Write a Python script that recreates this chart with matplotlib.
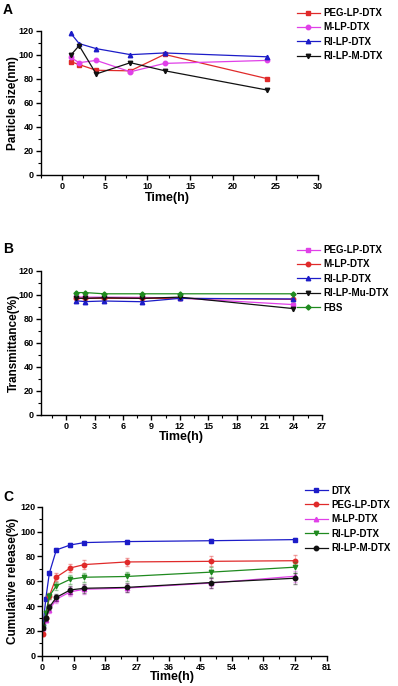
import matplotlib
matplotlib.use("Agg")
import matplotlib.pyplot as plt
from matplotlib.ticker import MultipleLocator

plt.rcParams['font.family'] = ['Liberation Sans', 'DejaVu Sans']
plt.rcParams['font.weight'] = 'bold'

# ---------------- Panel A data ----------------
tA = [1, 2, 4, 8, 12, 24]
A_labels = ['PEG-LP-DTX', 'M-LP-DTX', 'RI-LP-DTX', 'RI-LP-M-DTX']
A_peg = [94.5, 92.0, 87.3, 86.8, 100.5, 80.3]
A_m = [98.0, 93.6, 95.5, 86.0, 93.0, 95.5]
A_ri = [118.3, 109.5, 105.3, 100.3, 101.7, 98.5]
A_rim = [99.7, 107.8, 84.2, 93.6, 86.9, 70.8]

# ---------------- Panel B data ----------------
tB = [1, 2, 4, 8, 12, 24]
B_labels = ['PEG-LP-DTX', 'M-LP-DTX', 'RI-LP-DTX', 'RI-LP-Mu-DTX', 'FBS']
B_peg = [98.2, 98.0, 98.0, 97.8, 97.2, 91.8]
B_m = [97.0, 97.0, 97.0, 97.0, 97.0, 96.2]
B_ri = [95.0, 94.3, 94.8, 94.2, 97.0, 96.5]
B_rimu = [97.2, 97.0, 97.5, 97.0, 98.0, 88.5]
B_fbs = [101.8, 101.8, 100.8, 100.8, 100.8, 100.8]

# ---------------- Panel C data ----------------
tC = [0.25, 1, 2, 4, 8, 12, 24, 48, 72]
C_labels = ['DTX', 'PEG-LP-DTX', 'M-LP-DTX', 'RI-LP-DTX', 'RI-LP-M-DTX']
C_dtx = [25.0, 46.0, 66.4, 85.2, 89.2, 91.1, 91.9, 92.6, 93.5]
C_dtx_err = [1.5, 1.5, 1.5, 1.5, 1.5, 1.5, 1.5, 1.5, 1.5]
C_peg = [17.5, 30.0, 48.0, 63.3, 70.7, 73.4, 75.5, 76.0, 76.5]
C_peg_err = [1.5, 2.0, 2.5, 3.0, 3.5, 3.5, 3.5, 4.0, 4.5]
C_m = [22.0, 29.0, 37.0, 45.5, 51.5, 53.5, 54.5, 58.5, 64.0]
C_m_err = [1.5, 2.0, 2.5, 3.0, 3.5, 3.5, 3.5, 4.0, 4.5]
C_ri = [23.0, 34.0, 48.0, 56.3, 61.6, 63.2, 63.8, 67.3, 71.3]
C_ri_err = [1.5, 2.0, 2.5, 3.0, 3.5, 3.5, 3.5, 4.0, 4.5]
C_rim = [22.0, 30.0, 39.0, 47.0, 53.0, 54.3, 55.0, 58.9, 62.4]
C_rim_err = [1.5, 2.0, 2.5, 3.0, 3.5, 3.5, 3.5, 4.0, 4.5]

RED = '#e02a2a'
MAG = '#e040e8'
BLUE = '#1c1cc8'
BLACK = '#111111'
GREEN = '#1f8a1f'

W, H = 398, 686
fig = plt.figure(figsize=(W / 100, H / 100), dpi=100)


def px_axes(left, right, top, bottom):
    return fig.add_axes([left / W, 1 - bottom / H, (right - left) / W, (bottom - top) / H])


def style(ax, xmin, xlim, xticks):
    ax.spines['top'].set_visible(False)
    ax.spines['right'].set_visible(False)
    for s in ('left', 'bottom'):
        ax.spines[s].set_linewidth(1.0)
    ax.set_xlim(*xlim)
    ax.set_xticks(xticks)
    ax.xaxis.set_minor_locator(MultipleLocator(xmin))
    ax.set_ylim(0, 120)
    ax.set_yticks(range(0, 121, 20))
    ax.yaxis.set_minor_locator(MultipleLocator(10))
    ax.tick_params(which='major', direction='out', length=3.5, width=1, labelsize=6.5, pad=1.5)
    ax.tick_params(which='minor', direction='out', length=2, width=0.8)
    for lab in ax.get_xticklabels() + ax.get_yticklabels():
        lab.set_fontweight('bold')


def legend(ax, x, y):
    leg = ax.legend(loc='upper left', bbox_to_anchor=(x / W, 1 - y / H), bbox_transform=fig.transFigure,
                    frameon=False, fontsize=7, handlelength=2.35, handletextpad=0.4,
                    labelspacing=0.45, borderpad=0, borderaxespad=0)
    for t in leg.get_texts():
        t.set_fontweight('bold')
    return leg


def labels(ax, xl, yl, xc, yc):
    ax.set_xlabel(xl, fontsize=9, fontweight='bold')
    ax.set_ylabel(yl, fontsize=8.5, fontweight='bold')
    ax.xaxis.label.set_va('center')
    ax.xaxis.set_label_coords(*xc)
    ax.yaxis.set_label_coords(*yc)


lw = 0.9
ms = 3.2

# ---------------- Panel A ----------------
axA = px_axes(40.7, 318.3, 31, 175)
axA.plot(tA, A_peg, '-s', color=RED, lw=lw, ms=ms, label=A_labels[0])
axA.plot(tA, A_m, '-o', color=MAG, lw=lw, ms=ms, label=A_labels[1])
axA.plot(tA, A_ri, '-^', color=BLUE, lw=lw, ms=ms, label=A_labels[2])
axA.plot(tA, A_rim, '-v', color=BLACK, lw=lw, ms=ms, label=A_labels[3])
style(axA, 2.5, (-2.5, 30), range(0, 31, 5))
labels(axA, 'Time(h)', 'Particle size(nm)', (0.455, -0.16), (-0.078, 0.5))
legend(axA, 297, 8)
fig.text(3 / W, 1 - 3 / H, 'A', fontsize=10, fontweight='bold', va='top', ha='left')

# ---------------- Panel B ----------------
axB = px_axes(40.7, 321.7, 270.7, 415)
axB.plot(tB, B_peg, '-s', color=MAG, lw=lw, ms=ms, label=B_labels[0])
axB.plot(tB, B_m, '-o', color=RED, lw=lw, ms=ms, label=B_labels[1])
axB.plot(tB, B_ri, '-^', color=BLUE, lw=lw, ms=ms, label=B_labels[2])
axB.plot(tB, B_rimu, '-v', color=BLACK, lw=lw, ms=ms, label=B_labels[3])
axB.plot(tB, B_fbs, '-D', color=GREEN, lw=lw, ms=2.6, label=B_labels[4])
style(axB, 1.5, (-2.7, 27), range(0, 28, 3))
labels(axB, 'Time(h)', 'Transmittance(%)', (0.5, -0.152), (-0.074, 0.5))
legend(axB, 297, 245)
fig.text(3 / W, 1 - 242 / H, 'B', fontsize=10, fontweight='bold', va='top', ha='left')

# ---------------- Panel C ----------------
axC = px_axes(42.3, 326.7, 506.7, 655.7)
series = [
    (C_dtx, C_dtx_err, BLUE, 's', C_labels[0]),
    (C_peg, C_peg_err, RED, 'o', C_labels[1]),
    (C_m, C_m_err, MAG, '^', C_labels[2]),
    (C_ri, C_ri_err, GREEN, 'v', C_labels[3]),
    (C_rim, C_rim_err, BLACK, 'o', C_labels[4]),
]
for y, e, c, m, lab in series:
    axC.errorbar(tC, y, yerr=e, fmt='none', ecolor=c, elinewidth=0.5, capsize=1.2, alpha=0.45)
    axC.plot(tC, y, '-' + m, color=c, lw=lw, ms=ms, label=lab)
style(axC, 4.5, (0, 81), range(0, 82, 9))
labels(axC, 'Time(h)', 'Cumulative release(%)', (0.456, -0.143), (-0.082, 0.5))
legend(axC, 305, 485.5)
fig.text(3 / W, 1 - 490 / H, 'C', fontsize=10, fontweight='bold', va='top', ha='left')

fig.savefig('out.png', dpi=100)
